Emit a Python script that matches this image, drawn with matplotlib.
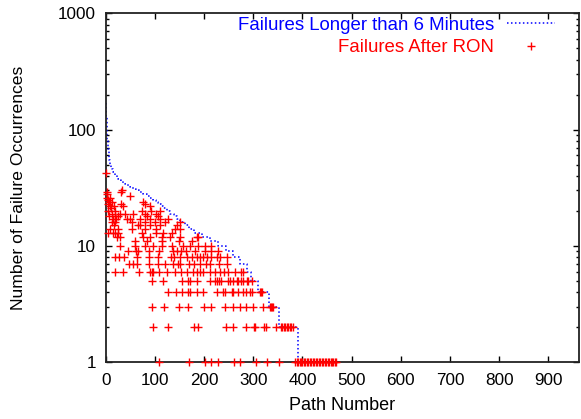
import matplotlib
matplotlib.use("Agg")
import matplotlib.pyplot as plt
from matplotlib.ticker import FixedLocator, NullFormatter

plt.rcParams['font.family'] = ['Liberation Sans', 'DejaVu Sans']

# ---- data -------------------------------------------------------------
# Blue curve: path rank where each failure count level starts (steps)
blue_rank = [0, 1, 2, 3.5, 5, 6, 7, 9, 11, 14, 18, 22, 25, 28, 32, 36, 40,
             45, 50, 56, 62, 68, 76, 84, 91, 97, 102, 107, 112, 117, 124,
             130, 138, 145, 152, 162, 170, 180, 195, 212, 228, 244, 259,
             273, 287, 296, 309, 331, 353, 391]
blue_count = [170, 130, 100, 80, 68, 60, 55, 50, 46, 43, 41, 39, 38, 37, 36,
              35, 34, 33, 32, 31, 30, 29, 28, 27, 26, 25, 24, 23, 22, 21, 20,
              19, 18, 17, 16, 15, 14, 13, 12, 11, 10, 9, 8, 7, 6, 5, 4, 3, 2,
              1]

# Red points: failures after RON (path number, count), grouped by count
row1 = [109, 170, 202, 214, 229, 261, 273, 305, 328, 352,
        385, 388, 391, 394, 397, 400, 403, 406, 409, 412, 415, 418, 421,
        424, 427, 430, 433, 436, 439, 442, 445, 448, 451, 454, 457, 460,
        463, 466, 469]
row2 = [97, 127, 180, 188, 245, 259, 285, 301, 303, 322, 326, 346,
        356, 359, 362, 365, 368, 371, 374, 377, 380]
row3 = [95, 119, 150, 168, 200, 214, 242, 258, 273, 285, 299, 320,
        334, 336, 338, 340]
row4 = [127, 143, 156, 168, 171, 185, 198, 226, 239, 243, 256, 259, 269,
        280, 285, 293, 297, 313, 315, 317]
row5 = [95, 117, 156, 168, 171, 185, 212, 222, 226, 230, 234, 249, 253,
        259, 266, 269, 276, 280, 287, 290, 297]
row6 = [19, 36, 68, 90, 94, 97, 109, 124, 141, 154, 166, 178, 185, 192,
        198, 212, 222, 232, 240, 249, 263, 276, 280]
row7 = [48, 56, 63, 89, 107, 120, 137, 146, 152, 170, 180, 192, 204, 213,
        231, 246]
row8 = [19, 28, 37, 63, 89, 107, 133, 139, 151, 166, 175, 185, 192, 198,
        205, 215, 227, 232, 246]
row9 = [46, 62, 66, 87, 109, 136, 144, 154, 163, 182, 202, 215, 229]
row10 = [29, 60, 80, 97, 114, 134, 158, 171, 188, 202, 215]
row11 = [59, 83, 114, 148, 175]
row12 = [22, 30, 76, 90, 114, 131, 151, 185, 188]
row13 = [5, 14, 19, 26, 73, 102, 117, 134]
row14 = [9, 25, 53, 80, 102, 141, 151]
row15 = [16, 66, 70, 90, 110, 144]
row16 = [12, 18, 53, 80, 100, 120, 151]
row17 = [15, 20, 43, 49, 70, 90, 110, 127]
row18 = [7, 19, 26, 83, 107]
row19 = [12, 29, 39, 56, 80, 103]
row20 = [4, 19, 73, 93, 110]
row21 = [10]
row22 = [8, 16, 36, 90]
row23 = [5, 32, 80]
row24 = [6, 12, 76]
row25 = [5]
row26 = [3, 9]
row27 = [49]
row28 = [2]
row29 = [2, 32]
row30 = [34]
row42 = [0]

red_rows = [(1, row1), (2, row2), (3, row3), (4, row4), (5, row5),
            (6, row6), (7, row7), (8, row8), (9, row9), (10, row10),
            (11, row11), (12, row12), (13, row13), (14, row14),
            (15, row15), (16, row16), (17, row17), (18, row18),
            (19, row19), (20, row20), (21, row21), (22, row22),
            (23, row23), (24, row24), (25, row25), (26, row26),
            (27, row27), (28, row28), (29, row29), (30, row30),
            (42, row42)]
red_x = [p for c, r in red_rows for p in r]
red_y = [c for c, r in red_rows for p in r]

x_ticks = [0, 100, 200, 300, 400, 500, 600, 700, 800, 900]
y_ticks = [1, 10, 100, 1000]
y_tick_labels = ['1', '10', '100', '1000']

# ---- figure -----------------------------------------------------------
fig = plt.figure(figsize=(5.81, 4.19), dpi=100)
ax = fig.add_axes([105.7 / 581, 1 - 362.3 / 419,
                   (579 - 105.7) / 581, (362.3 - 13.3) / 419])

ax.plot(blue_rank, blue_count, drawstyle='steps-post', color='#0000ff',
        lw=1.1, linestyle=(0, (1, 1.6)),
        label='Failures Longer than 6 Minutes', zorder=2)
ax.plot(red_x, red_y, linestyle='none', marker='+', color='#ff0000',
        markersize=6, markeredgewidth=1.0, clip_on=False,
        label='Failures After RON', zorder=3)

ax.set_yscale('log')
ax.set_xlim(0, 962)
ax.set_ylim(1, 1000)

ax.xaxis.set_major_locator(FixedLocator(x_ticks))
ax.yaxis.set_major_locator(FixedLocator(y_ticks))
ax.set_yticklabels(y_tick_labels)
minor = [m * d for d in (1, 10, 100) for m in range(2, 10)]
ax.yaxis.set_minor_locator(FixedLocator(minor))
ax.yaxis.set_minor_formatter(NullFormatter())

ax.tick_params(which='both', direction='in', top=True, right=True,
               labelsize=12.3, colors='black')
ax.tick_params(axis='x', which='major', length=4.5, width=1, pad=8)
ax.tick_params(axis='y', which='major', length=4.5, width=1, pad=7)
ax.tick_params(axis='y', which='minor', length=2.5, width=1)

for s in ax.spines.values():
    s.set_linewidth(1.3)
    s.set_color('#222222')

ax.set_xlabel('Path Number', fontsize=13)
ax.set_ylabel('Number of Failure Occurrences', fontsize=12.6)
ax.xaxis.set_label_coords(0.5, -0.1)
ax.yaxis.set_label_coords(-0.168, 0.5)

leg = ax.legend(loc='upper right', bbox_to_anchor=(0.949, 0.99),
                markerfirst=False, frameon=False, fontsize=13.4,
                handlelength=2.58, handletextpad=0.7, labelspacing=0.3,
                borderpad=0, borderaxespad=0, labelcolor='linecolor',
                numpoints=1)

fig.savefig('out.png', dpi=100)
